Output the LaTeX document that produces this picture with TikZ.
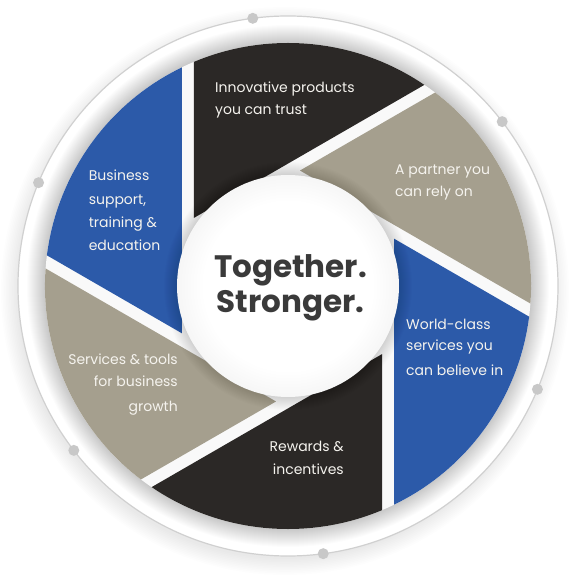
\documentclass[tikz,border=0pt]{standalone}
\usepackage{fontspec}
\setmainfont{Poppins}
\definecolor{bk}{HTML}{2B2826}
\definecolor{tn}{HTML}{A59F8E}
\definecolor{bl}{HTML}{2C5AA9}
\definecolor{txt}{HTML}{F5F3EE}
\definecolor{ttlc}{HTML}{3A3A3A}
\definecolor{ringc}{HTML}{D0D0D0}
\definecolor{dotc}{HTML}{C8C8C8}
\pgfdeclareradialshading{discshade}{\pgfpoint{0bp}{0bp}}{color(0bp)=(white); color(19bp)=(white); color(25bp)=(gray!7); color(50bp)=(gray!7)}
\tikzset{
  lbl/.style={text=txt, font=\fontsize{14}{16}\selectfont, inner sep=0pt},
  ttl/.style={text=ttlc, font=\fontsize{31}{33}\selectfont\bfseries, inner sep=0pt},
  ringdot/.style={circle, fill=dotc, minimum size=11pt, inner sep=0pt}
}
\begin{document}
\begin{tikzpicture}[x=1pt,y=1pt]
\useasboundingbox (-288,-289) rectangle (287,286);
\fill[white] (-288,-289) rectangle (287,286);
% faint outer shadow
\foreach \i in {0,...,10} \fill[black,opacity=0.006] (-3,-5) circle[radius=268+1.6*\i];
\fill[white] (0,0) circle[radius=270];
% shadow of blade disc
\foreach \i in {1,...,18} \fill[black,opacity=0.010] (0,0) circle[radius=243+\i];
% thin ring and dots
\draw[ringc, line width=1.2pt] (0,0) circle[radius=270];
\foreach \k in {0,...,5} \node[ringdot] (d\k) at ({37.5+60*\k}:270) {};
% gap colour
\fill[gray!5] (0,0) circle[radius=243];
% blades
\foreach \k/\col in {0/bk,1/tn,2/bl,3/bk,4/tn,5/bl}{
  \begin{scope}[rotate=-60*\k]
    \clip (0,0) circle[radius=243];
    \fill[\col] (-94,68.13) -- ++(90:500) -- ++(-30:500) -- cycle;
  \end{scope}
}
% inner disc shadow
\foreach \i in {1,...,14} \fill[black,opacity=0.013] (0,0) circle[radius=110+\i];
\shade[shading=discshade] (0,0) circle[radius=111];
% title
\node[ttl, anchor=base] (t1) at (2.5,8) {Together.};
\node[ttl, anchor=base] (t2) at (2.5,-27) {Stronger.};
% labels
\node[lbl, anchor=base west] (a1) at (-73,193.7) {Innovative products};
\node[lbl, anchor=base west] (a2) at (-73,171) {you can trust};
\node[lbl, anchor=base west] (b1) at (107,111.5) {A partner you};
\node[lbl, anchor=base west] (b2) at (107,89.4) {can rely on};
\node[lbl, anchor=base west] (c1) at (118,-43) {World-class};
\node[lbl, anchor=base west] (c2) at (118,-64.7) {services you};
\node[lbl, anchor=base west] (c3) at (118,-89.7) {can believe in};
\node[lbl, anchor=base east] (e1) at (56,-165.7) {Rewards \&};
\node[lbl, anchor=base east] (e2) at (56,-188) {incentives};
\node[lbl, anchor=base east] (f1) at (-110,-78) {Services \& tools};
\node[lbl, anchor=base east] (f2) at (-110,-100.7) {for business};
\node[lbl, anchor=base east] (f3) at (-110,-125.7) {growth};
\node[lbl, anchor=base west] (g1) at (-199.4,105) {Business};
\node[lbl, anchor=base west] (g2) at (-199.4,81) {support,};
\node[lbl, anchor=base west] (g3) at (-199.4,58) {training \&};
\node[lbl, anchor=base west] (g4) at (-199.4,35) {education};
\end{tikzpicture}
\end{document}
